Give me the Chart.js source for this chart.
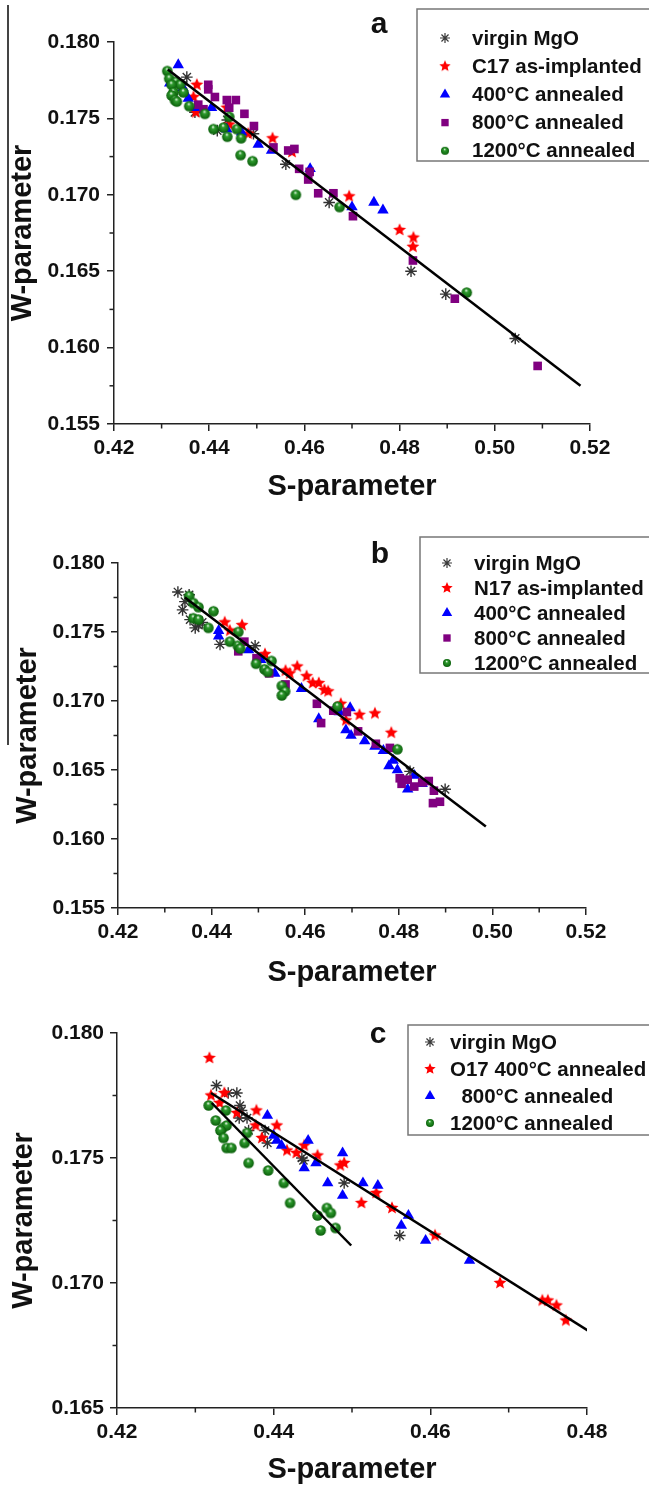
<!DOCTYPE html>
<html>
<head>
<meta charset="utf-8">
<script src="https://cdn.jsdelivr.net/npm/chart.js@4.4.1/dist/chart.umd.min.js"></script>
<style>
  body { margin: 0; background: #fff; width: 649px; height: 1487px; position: relative; overflow: hidden; }
  canvas { position: absolute; left: 0; }
  #rule { position: absolute; left: 7px; top: 5px; width: 2px; height: 740px; background: #444; }
</style>
</head>
<body>
<div id="rule"></div>
<canvas id="chartA" width="649" height="510" style="top:0px"></canvas>
<canvas id="chartB" width="649" height="490" style="top:510px"></canvas>
<canvas id="chartC" width="649" height="487" style="top:1000px"></canvas>
<script>
/// DATA ///

// panel a : C17
const virginA = [[0.4353,0.1777],[0.4345,0.1772],[0.4370,0.1754],[0.4417,0.1742],[0.4438,0.1749],[0.4493,0.1740],[0.4561,0.1720],[0.4652,0.1695],[0.4824,0.1650],[0.4897,0.1635],[0.5043,0.1606]];
const implA = [[0.4374,0.1772],[0.4367,0.1764],[0.4372,0.1754],[0.4437,0.1757],[0.4442,0.1746],[0.4482,0.1740],[0.4533,0.1737],[0.4574,0.1728],[0.4694,0.1699],[0.4800,0.1677],[0.4828,0.1666],[0.4829,0.1672]];
const ann400A = [[0.4335,0.1785],[0.4317,0.1773],[0.4345,0.1770],[0.4356,0.1763],[0.4374,0.1757],[0.4405,0.1757],[0.4437,0.1743],[0.4468,0.1741],[0.4503,0.1733],[0.4531,0.1729],[0.4612,0.1717],[0.4700,0.1692],[0.4746,0.1695],[0.4765,0.1690]];
const ann800A = [[0.4398,0.1772],[0.4398,0.1769],[0.4412,0.1764],[0.4437,0.1762],[0.4456,0.1762],[0.4442,0.1757],[0.4377,0.1759],[0.4388,0.1756],[0.4474,0.1753],[0.4494,0.1745],[0.4535,0.1731],[0.4566,0.1729],[0.4579,0.1730],[0.4589,0.1717],[0.4611,0.1715],[0.4608,0.1710],[0.4629,0.1701],[0.4661,0.1701],[0.4702,0.1686],[0.4828,0.1657],[0.4916,0.1632],[0.5090,0.1588]];
const ann1200A = [[0.4312,0.1781],[0.4316,0.1776],[0.4330,0.1774],[0.4339,0.1772],[0.4321,0.1772],[0.4325,0.1767],[0.4346,0.1767],[0.4321,0.1765],[0.4328,0.1762],[0.4332,0.1761],[0.4358,0.1758],[0.4391,0.1753],[0.4442,0.1751],[0.4409,0.1743],[0.4430,0.1744],[0.4438,0.1738],[0.4458,0.1743],[0.4467,0.1737],[0.4466,0.1726],[0.4491,0.1722],[0.4582,0.1700],[0.4674,0.1692],[0.4941,0.1636]];
const fitA = [[0.4313,0.1782],[0.5180,0.1575]];

// panel b : N17
const virginB = [[0.4328,0.1779],[0.4352,0.1777],[0.4343,0.1772],[0.4338,0.1766],[0.4354,0.1759],[0.4372,0.1755],[0.4365,0.1753],[0.4380,0.1757],[0.4418,0.1741],[0.4493,0.1740],[0.4824,0.1649],[0.4899,0.1636]];
const implB = [[0.4428,0.1757],[0.4465,0.1755],[0.4439,0.1751],[0.4514,0.1734],[0.4558,0.1722],[0.4567,0.1720],[0.4583,0.1725],[0.4603,0.1718],[0.4616,0.1713],[0.4629,0.1713],[0.4641,0.1708],[0.4649,0.1707],[0.4676,0.1698],[0.4687,0.1686],[0.4716,0.1690],[0.4749,0.1691],[0.4784,0.1677]];
const ann400B = [[0.4415,0.1751],[0.4415,0.1747],[0.4479,0.1737],[0.4505,0.1730],[0.4535,0.1720],[0.4592,0.1709],[0.4629,0.1687],[0.4673,0.1692],[0.4696,0.1695],[0.4687,0.1679],[0.4698,0.1675],[0.4727,0.1671],[0.4749,0.1667],[0.4767,0.1664],[0.4788,0.1657],[0.4779,0.1653],[0.4797,0.1650],[0.4819,0.1636],[0.4833,0.1646],[0.4850,0.1640]];
const ann800B = [[0.4457,0.1736],[0.4470,0.1743],[0.4496,0.1731],[0.4523,0.1720],[0.4558,0.1712],[0.4625,0.1698],[0.4634,0.1684],[0.4660,0.1693],[0.4689,0.1692],[0.4713,0.1678],[0.4751,0.1669],[0.4781,0.1666],[0.4802,0.1644],[0.4806,0.1640],[0.4819,0.1643],[0.4833,0.1638],[0.4850,0.1641],[0.4864,0.1642],[0.4875,0.1635],[0.4873,0.1626],[0.4888,0.1627]];
const ann1200B = [[0.4352,0.1776],[0.4361,0.1771],[0.4372,0.1768],[0.4361,0.1760],[0.4372,0.1759],[0.4393,0.1753],[0.4404,0.1765],[0.4439,0.1743],[0.4457,0.1750],[0.4456,0.1740],[0.4461,0.1738],[0.4495,0.1727],[0.4513,0.1723],[0.4528,0.1729],[0.4520,0.1721],[0.4550,0.1711],[0.4557,0.1707],[0.4550,0.1704],[0.4669,0.1696],[0.4797,0.1665]];
const fitB = [[0.4343,0.1775],[0.4986,0.1609]];

// panel c : O17
const virginC = [[0.4327,0.1779],[0.4342,0.1776],[0.4353,0.1776],[0.4357,0.1771],[0.4359,0.1769],[0.4356,0.1766],[0.4366,0.1766],[0.4368,0.1761],[0.4389,0.1761],[0.4392,0.1756],[0.4436,0.1750],[0.4438,0.1749],[0.4490,0.1740],[0.4561,0.1719]];
const ann400C = [[0.4318,0.1790],[0.4320,0.1775],[0.4337,0.1776],[0.4331,0.1772],[0.4353,0.1768],[0.4378,0.1769],[0.4377,0.1763],[0.4404,0.1763],[0.4385,0.1758],[0.4417,0.1753],[0.4429,0.1752],[0.4439,0.1755],[0.4456,0.1751],[0.4485,0.1747],[0.4490,0.1748],[0.4512,0.1732],[0.4531,0.1736],[0.4551,0.1730],[0.4606,0.1719],[0.4689,0.1700],[0.4743,0.1693],[0.4750,0.1693],[0.4761,0.1691],[0.4773,0.1685]];
const ann800C = [[0.4392,0.1767],[0.4400,0.1759],[0.4404,0.1757],[0.4410,0.1755],[0.4444,0.1757],[0.4439,0.1746],[0.4454,0.1748],[0.4488,0.1752],[0.4469,0.1740],[0.4488,0.1735],[0.4514,0.1740],[0.4533,0.1739],[0.4572,0.1727],[0.4563,0.1723],[0.4594,0.1717],[0.4650,0.1709]];
const ann1200C = [[0.4317,0.1771],[0.4339,0.1769],[0.4326,0.1765],[0.4335,0.1762],[0.4340,0.1763],[0.4332,0.1761],[0.4336,0.1758],[0.4340,0.1754],[0.4346,0.1754],[0.4366,0.1760],[0.4363,0.1756],[0.4368,0.1748],[0.4393,0.1745],[0.4413,0.1740],[0.4421,0.1732],[0.4468,0.1730],[0.4473,0.1728],[0.4456,0.1727],[0.4479,0.1722],[0.4460,0.1721]];
const fitC1 = [[0.4320,0.1776],[0.4806,0.1680]];
const fitC2 = [[0.4321,0.1772],[0.4499,0.1715]];

// ticks
const xTicksAB = [0.42, 0.44, 0.46, 0.48, 0.50, 0.52];
const xMinorAB = [0.43, 0.45, 0.47, 0.49, 0.51];
const yTicksAB = [0.155, 0.160, 0.165, 0.170, 0.175, 0.180];
const yMinorAB = [0.1575, 0.1625, 0.1675, 0.1725, 0.1775];
const xTicksC = [0.42, 0.44, 0.46, 0.48];
const xMinorC = [0.43, 0.45, 0.47];
const yTicksC = [0.165, 0.170, 0.175, 0.180];
const yMinorC = [0.1675, 0.1725, 0.1775];


/// MARKERS ///

const FONT = '"Liberation Sans", Arial, sans-serif';

function makeStar(r, color) {
    const c = document.createElement('canvas');
    c.width = c.height = Math.ceil(r * 2 + 2);
    const g = c.getContext('2d');
    const cx = c.width / 2, cy = c.height / 2;
    g.beginPath();
    for (let i = 0; i < 10; i++) {
        const rr = i % 2 ? r * 0.45 : r;
        const a = -Math.PI / 2 + i * Math.PI / 5;
        g.lineTo(cx + rr * Math.cos(a), cy + rr * Math.sin(a));
    }
    g.closePath();
    g.fillStyle = color;
    g.fill();
    return c;
}

function makeBall(r) {
    const c = document.createElement('canvas');
    c.width = c.height = Math.ceil(r * 2 + 2);
    const g = c.getContext('2d');
    const cx = c.width / 2, cy = c.height / 2;
    const grad = g.createRadialGradient(cx - r * 0.1, cy - r * 0.45, r * 0.05, cx, cy, r);
    grad.addColorStop(0, '#e6f5e6');
    grad.addColorStop(0.3, '#2e9a2e');
    grad.addColorStop(1, '#0a5f0a');
    g.fillStyle = grad;
    g.beginPath();
    g.arc(cx, cy, r, 0, Math.PI * 2);
    g.fill();
    return c;
}

const starImg = makeStar(6.8, '#ff0000');
const starSmall = makeStar(6, '#ff0000');
const ballImg = makeBall(5.3);
const ballSmall = makeBall(4);

const styles = {
    virgin: { pointStyle: 'star', pointRadius: 5.8, pointBorderWidth: 1.4, pointBorderColor: '#333', pointBackgroundColor: '#333' },
    star:   { pointStyle: starImg, pointRadius: 6 },
    tri:    { pointStyle: 'triangle', pointRadius: 6.6, pointBorderWidth: 0, pointBackgroundColor: '#0000ff' },
    sq:     { pointStyle: 'rect', pointRadius: 6.1, pointBorderWidth: 0, pointBackgroundColor: '#800080' },
    ball:   { pointStyle: ballImg, pointRadius: 5 }
};

// small symbols for the legend boxes
const legendSym = {
    virgin: { style: 'star', radius: 5, color: '#3a3a3a', border: 1.2 },
    star:   { style: starSmall, radius: 6 },
    tri:    { style: 'triangle', radius: 6, color: '#0000ff' },
    sq:     { style: 'rect', radius: 5.2, color: '#800080' },
    ball:   { style: ballSmall, radius: 4 }
};

const toXY = arr => arr.map(p => ({ x: p[0], y: p[1] }));


/// PLUGINS ///

const minorTicks = {
    id: 'minorTicks',
    afterDraw(chart, args, opts) {
        const ctx = chart.ctx;
        const area = chart.chartArea;
        const xs = chart.scales.x, ys = chart.scales.y;
        ctx.save();
        ctx.strokeStyle = '#222';
        ctx.lineWidth = 1.5;
        opts.x.forEach(v => {
            const px = xs.getPixelForValue(v);
            ctx.beginPath(); ctx.moveTo(px, area.bottom); ctx.lineTo(px, area.bottom + 4.5); ctx.stroke();
        });
        opts.y.forEach(v => {
            const py = ys.getPixelForValue(v);
            ctx.beginPath(); ctx.moveTo(area.left, py); ctx.lineTo(area.left - 4.5, py); ctx.stroke();
        });
        ctx.restore();
    }
};

const boxLegend = {
    id: 'boxLegend',
    afterDraw(chart, args, opts) {
        const ctx = chart.ctx;
        ctx.save();
        // border box
        ctx.strokeStyle = '#777';
        ctx.lineWidth = 1.5;
        ctx.strokeRect(opts.left, opts.top, 660 - opts.left, opts.bottom - opts.top);
        // panel letter
        ctx.fillStyle = '#111';
        ctx.font = 'bold 30px ' + FONT;
        ctx.textAlign = 'center';
        ctx.textBaseline = 'alphabetic';
        ctx.fillText(opts.letter, opts.letterX, opts.letterY);
        // entries
        ctx.font = 'bold 20.5px ' + FONT;
        ctx.textAlign = 'left';
        ctx.textBaseline = 'middle';
        opts.items.forEach((it, i) => {
            const y = opts.rowTop + i * opts.rowGap;
            const s = legendSym[it.sym];
            ctx.fillStyle = s.color || '#000';
            ctx.strokeStyle = s.color || '#000';
            ctx.lineWidth = s.border || 0;
            Chart.helpers.drawPoint(ctx, { pointStyle: s.style, radius: s.radius, rotation: 0, borderWidth: s.border || 0 }, opts.symX, y);
            ctx.fillStyle = '#111';
            ctx.fillText(it.text, opts.textX, y + 1);
        });
        ctx.restore();
    }
};


/// CHARTS ///

function makeScales(p) {
    const tickFont = { family: FONT, size: 21, weight: 'bold' };
    const titleFont = { family: FONT, size: 29, weight: 'bold', lineHeight: 1 };
    return {
        x: {
            type: 'linear', min: p.xMin, max: p.xMax,
            afterBuildTicks: s => { s.ticks = p.xTicks.map(v => ({ value: v })); },
            afterFit: s => { s.height = p.xBox; },
            grid: { drawOnChartArea: false, tickLength: 7, color: '#222', lineWidth: 1.5 },
            border: { display: true, color: '#222', width: 1.5 },
            ticks: { autoSkip: false, maxRotation: 0, padding: 5, color: '#111', font: tickFont, callback: v => Number(v).toFixed(2) },
            title: { display: true, text: 'S-parameter', color: '#111', font: titleFont, padding: { top: 0, bottom: p.xTitlePad } }
        },
        y: {
            type: 'linear', min: p.yMin, max: p.yMax,
            afterBuildTicks: s => { s.ticks = p.yTicks.map(v => ({ value: v })); },
            afterFit: s => { s.width = p.yBox; },
            grid: { drawOnChartArea: false, tickLength: 7, color: '#222', lineWidth: 1.5 },
            border: { display: true, color: '#222', width: 1.5 },
            ticks: { autoSkip: false, padding: p.yTickPad, color: '#111', font: tickFont, callback: v => Number(v).toFixed(3) },
            title: { display: true, text: 'W-parameter', color: '#111', font: titleFont, padding: { top: p.yTitlePad, bottom: 0 } }
        }
    };
}

function series(label, data, sym, order) {
    return Object.assign({ label: label, data: toXY(data), order: order }, styles[sym]);
}

function fitLine(data) {
    return { label: 'fit', data: toXY(data), showLine: true, borderColor: '#000', borderWidth: 2.5, pointRadius: 0, order: 0 };
}

function buildPanel(id, datasets, p, legend) {
    return new Chart(document.getElementById(id), {
        type: 'scatter',
        data: { datasets: datasets },
        plugins: [minorTicks, boxLegend],
        options: {
            responsive: false,
            animation: false,
            devicePixelRatio: 1,
            events: [],
            layout: { padding: { top: p.padTop, right: p.padRight, left: 0, bottom: 0 } },
            scales: makeScales(p),
            plugins: {
                legend: { display: false },
                tooltip: { enabled: false },
                minorTicks: { x: p.xMinor, y: p.yMinor },
                boxLegend: legend
            }
        }
    });
}

// panel a
buildPanel('chartA', [
    fitLine(fitA),
    series('virgin MgO', virginA, 'virgin', 5),
    series('C17 as-implanted', implA, 'star', 4),
    series('400°C annealed', ann400A, 'tri', 3),
    series('800°C annealed', ann800A, 'sq', 2),
    series('1200°C annealed', ann1200A, 'ball', 1)
], {
    xMin: 0.42, xMax: 0.52, yMin: 0.155, yMax: 0.180,
    xTicks: xTicksAB, xMinor: xMinorAB, yTicks: yTicksAB, yMinor: yMinorAB,
    padTop: 42, padRight: 59, xBox: 86, yBox: 114, xTitlePad: 9, yTitlePad: 8, yTickPad: 7
}, {
    letter: 'a', letterX: 379, letterY: 33,
    left: 417, top: 9, bottom: 161, rowTop: 38, rowGap: 28.2, symX: 445, textX: 472,
    items: [
        { sym: 'virgin', text: 'virgin MgO' },
        { sym: 'star', text: 'C17 as-implanted' },
        { sym: 'tri', text: '400°C annealed' },
        { sym: 'sq', text: '800°C annealed' },
        { sym: 'ball', text: '1200°C annealed' }
    ]
});

// panel b
buildPanel('chartB', [
    fitLine(fitB),
    series('virgin MgO', virginB, 'virgin', 5),
    series('N17 as-implanted', implB, 'star', 4),
    series('400°C annealed', ann400B, 'tri', 3),
    series('800°C annealed', ann800B, 'sq', 2),
    series('1200°C annealed', ann1200B, 'ball', 1)
], {
    xMin: 0.42, xMax: 0.52, yMin: 0.155, yMax: 0.180,
    xTicks: xTicksAB, xMinor: xMinorAB, yTicks: yTicksAB, yMinor: yMinorAB,
    padTop: 53, padRight: 63, xBox: 92, yBox: 118, xTitlePad: 13, yTitlePad: 13, yTickPad: 6
}, {
    letter: 'b', letterX: 380, letterY: 53,
    left: 420, top: 27, bottom: 163, rowTop: 53, rowGap: 25, symX: 447, textX: 474,
    items: [
        { sym: 'virgin', text: 'virgin MgO' },
        { sym: 'star', text: 'N17 as-implanted' },
        { sym: 'tri', text: '400°C annealed' },
        { sym: 'sq', text: '800°C annealed' },
        { sym: 'ball', text: '1200°C annealed' }
    ]
});

// panel c
buildPanel('chartC', [
    fitLine(fitC1),
    fitLine(fitC2),
    series('virgin MgO', virginC, 'virgin', 4),
    series('O17 400°C annealed', ann400C, 'star', 3),
    series('800°C annealed', ann800C, 'tri', 2),
    series('1200°C annealed', ann1200C, 'ball', 1)
], {
    xMin: 0.42, xMax: 0.48, yMin: 0.165, yMax: 0.180,
    xTicks: xTicksC, xMinor: xMinorC, yTicks: yTicksC, yMinor: yMinorC,
    padTop: 33, padRight: 62, xBox: 79, yBox: 117, xTitlePad: 3, yTitlePad: 9, yTickPad: 6
}, {
    letter: 'c', letterX: 378, letterY: 43,
    left: 408, top: 25, bottom: 135, rowTop: 42, rowGap: 27, symX: 430, textX: 450,
    items: [
        { sym: 'virgin', text: 'virgin MgO' },
        { sym: 'star', text: 'O17 400°C annealed' },
        { sym: 'tri', text: '  800°C annealed' },
        { sym: 'ball', text: '1200°C annealed' }
    ]
});
</script>
</body>
</html>
